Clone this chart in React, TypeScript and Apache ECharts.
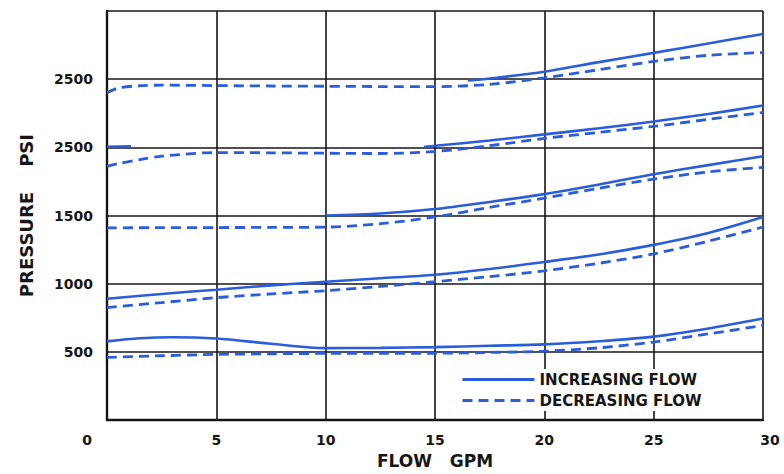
import React, { useEffect, useRef } from "react";
import * as echarts from "echarts";

// Axis tick labels (as printed on the original chart)
const xTickLabels = ["0", "5", "10", "15", "20", "25", "30"];
const yTickLabels = ["", "500", "1000", "1500", "2500", "2500", ""];

// Curve A (top)
const incAX = [16.5, 17.5, 20, 22.5, 25, 27.5, 30];
const incAY = [2490, 2505, 2555, 2625, 2693, 2762, 2832];
const decAX = [0, 0.5, 1.5, 2.5, 5, 7.5, 10, 12.5, 15, 17.5, 20, 22.5, 25, 27.5, 30];
const decAY = [2400, 2435, 2452, 2456, 2453, 2450, 2448, 2446, 2445, 2462, 2510, 2570, 2630, 2675, 2695];

// Curve B
const incBX = [0, 1.1, 1.2, 14.5, 15, 17.5, 20, 22.5, 25, 27.5, 30];
const incBY = [2004, 2007, null, 2003, 2012, 2050, 2095, 2140, 2190, 2245, 2307];
const decBX = [0, 0.5, 1.5, 2.5, 5, 7.5, 10, 12.5, 15, 17.5, 20, 22.5, 25, 27.5, 30];
const decBY = [1860, 1880, 1910, 1935, 1962, 1960, 1957, 1955, 1970, 2012, 2066, 2110, 2154, 2205, 2256];

// Curve C
const incCX = [10, 12.5, 15, 17.5, 20, 22.5, 25, 27.5, 30];
const incCY = [1500, 1515, 1548, 1600, 1657, 1728, 1803, 1870, 1935];
const decCX = [0, 2.5, 5, 7.5, 10, 12.5, 15, 17.5, 20, 22.5, 25, 27.5, 30];
const decCY = [1410, 1411, 1412, 1413, 1415, 1440, 1490, 1560, 1628, 1700, 1767, 1820, 1854];

// Curve D
const incDX = [0, 2.5, 5, 7.5, 10, 12.5, 15, 17.5, 20, 22.5, 25, 27.5, 30];
const incDY = [890, 925, 956, 988, 1015, 1040, 1066, 1108, 1160, 1215, 1285, 1372, 1489];
const decDX = [0, 2.5, 5, 7.5, 10, 12.5, 15, 17.5, 20, 22.5, 25, 27.5, 30];
const decDY = [825, 862, 898, 925, 949, 980, 1015, 1052, 1095, 1150, 1219, 1312, 1416];

// Curve E (bottom)
const incEX = [0, 1.5, 3, 5, 7.5, 10, 12.5, 15, 17.5, 20, 22.5, 25, 27.5, 30];
const incEY = [577, 600, 608, 598, 560, 528, 530, 535, 545, 555, 578, 612, 672, 745];
const decEX = [0, 2.5, 5, 7.5, 10, 12.5, 15, 17.5, 20, 22.5, 25, 27.5, 30];
const decEY = [460, 472, 482, 486, 489, 489, 490, 496, 505, 530, 572, 632, 694];

const INC = "INCREASING FLOW";
const DEC = "DECREASING FLOW";

const BLUE = "#2a5cdc";
const INK = "#161616";
const FONT = "DejaVu Sans";

function pairs(xs: number[], ys: (number | null)[]) {
  return xs.map((x, i) => (ys[i] === null ? [x, "-"] : [x, ys[i]]));
}

function lineSeries(name: string, xs: number[], ys: (number | null)[], dashed: boolean) {
  return {
    type: "line",
    name,
    data: pairs(xs, ys),
    showSymbol: false,
    symbol: "none",
    smooth: 0.3,
    connectNulls: false,
    lineStyle: {
      color: BLUE,
      width: dashed ? 2.8 : 2.6,
      type: dashed ? [10, 6] : "solid",
    },
    itemStyle: { color: BLUE },
    z: 3,
  };
}

export default function App() {
  const ref = useRef<HTMLDivElement>(null);

  useEffect(() => {
    if (!ref.current) return;
    const chart = echarts.init(ref.current, null, { renderer: "svg" });
    const labelStyle = { fontFamily: FONT, fontSize: 14, fontWeight: "bold", color: INK };
    chart.setOption({
      animation: false,
      backgroundColor: "#ffffff",
      grid: { left: 107, right: 21, top: 11, bottom: 52, containLabel: false },
      xAxis: {
        type: "value",
        min: 0,
        max: 30,
        interval: 5,
        name: "FLOW   GPM",
        nameLocation: "middle",
        nameGap: 31,
        nameTextStyle: { fontFamily: FONT, fontSize: 17, fontWeight: "bold", color: INK },
        axisLine: { show: true, lineStyle: { color: INK, width: 2.4 } },
        axisTick: { show: false },
        splitLine: { show: true, lineStyle: { color: INK, width: 1.6 } },
        axisLabel: {
          ...labelStyle,
          margin: 13,
          formatter: (v: number) => {
            const t = xTickLabels[Math.round(v / 5)] ?? "";
            if (v === 0) return "{z|" + t + "}";
            if (v === 30) return "{t|" + t + "}";
            return t;
          },
          rich: {
            z: { ...labelStyle, padding: [0, 40, 0, 0] },
            t: { ...labelStyle, padding: [0, 0, 0, 14] },
          },
        },
      },
      yAxis: {
        type: "value",
        min: 0,
        max: 3000,
        interval: 500,
        name: "PRESSURE    PSI",
        nameLocation: "middle",
        nameGap: 72,
        nameRotate: 90,
        nameTextStyle: { fontFamily: FONT, fontSize: 18, fontWeight: "bold", color: INK },
        axisLine: { show: true, lineStyle: { color: INK, width: 2.4 } },
        axisTick: { show: false },
        splitLine: { show: true, lineStyle: { color: INK, width: 1.6 } },
        axisLabel: {
          ...labelStyle,
          margin: 14,
          formatter: (v: number) => yTickLabels[Math.round(v / 500)] ?? "",
        },
      },
      legend: {
        data: [{ name: INC }, { name: DEC }],
        orient: "vertical",
        left: 455,
        top: 369,
        itemWidth: 72,
        itemHeight: 12,
        itemGap: 6,
        backgroundColor: "#ffffff",
        padding: [3, 6, 3, 6],
        selectedMode: false,
        itemStyle: { opacity: 0 },
        lineStyle: { width: 3 },
        textStyle: { fontFamily: FONT, fontSize: 15, fontWeight: "bold", color: INK },
      },
      series: [
        lineSeries(INC, incAX, incAY, false),
        lineSeries(DEC, decAX, decAY, true),
        lineSeries(INC, incBX, incBY, false),
        lineSeries(DEC, decBX, decBY, true),
        lineSeries(INC, incCX, incCY, false),
        lineSeries(DEC, decCX, decCY, true),
        lineSeries(INC, incDX, incDY, false),
        lineSeries(DEC, decDX, decDY, true),
        lineSeries(INC, incEX, incEY, false),
        lineSeries(DEC, decEX, decEY, true),
      ],
    });
    return () => chart.dispose();
  }, []);

  return (
    <div
      ref={ref}
      style={{ position: "fixed", left: 0, top: 0, width: 784, height: 474, background: "#fff" }}
    />
  );
}
